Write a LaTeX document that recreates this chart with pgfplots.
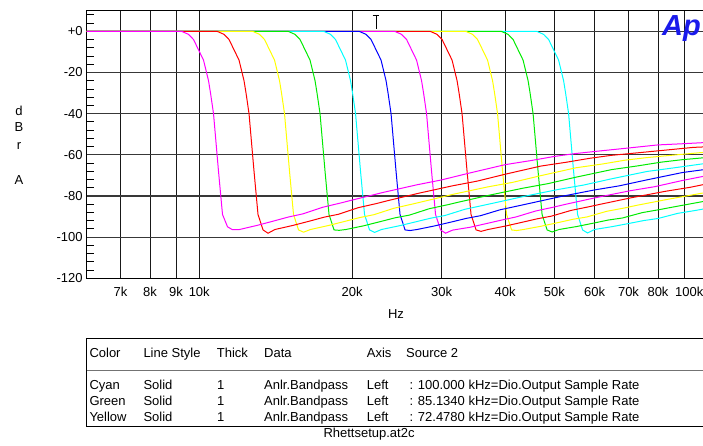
\documentclass[border=0pt]{standalone}
\usepackage{fontspec}
\setmainfont{Liberation Sans}
\usepackage{pgfplots}
\pgfplotsset{compat=1.18}
\definecolor{apmag}{RGB}{255,0,255}
\definecolor{apred}{RGB}{255,0,0}
\definecolor{apyel}{RGB}{255,255,0}
\definecolor{apgrn}{RGB}{0,235,0}
\definecolor{apcyn}{RGB}{0,255,255}
\definecolor{apblu}{RGB}{0,0,255}
\definecolor{aplogo}{RGB}{26,26,235}
\begin{document}
\begin{tikzpicture}[font=\fontsize{13}{15}\selectfont]
\useasboundingbox (0pt,0pt) rectangle (703pt,446pt);
\begin{axis}[
  at={(86.5pt,167.7pt)}, anchor=south west,
  scale only axis, width=620.7pt, height=267.6pt,
  xmode=log, xmin=6000, xmax=100000, ymin=-120, ymax=10,
  xtick={7000,8000,9000,10000,20000,30000,40000,50000,60000,70000,80000,90000},
  xticklabels={7k,8k,9k,10k,20k,30k,40k,50k,60k,70k,80k,{}},
  ytick={-120,-100,-80,-60,-40,-20,0},
  yticklabels={-120,-100,-80,-60,-40,-20,+0},
  minor ytick={-116,-112,-108,-104,-96,-92,-88,-84,-76,-72,-68,-64,-56,-52,-48,-44,-36,-32,-28,-24,-16,-12,-8,-4,4,8},
  xminorticks=false,
  major tick length=0pt, minor tick length=7pt, tick align=inside,
  ytick pos=left, xtick pos=bottom,
  tick style={black, line width=0.8pt},
  xmajorgrids, ymajorgrids,
  major x grid style={black!90, line width=0.9pt},
  major y grid style={black!78, line width=1.1pt},
  axis line style={black, line width=1.1pt},
  tick label style={font=\fontsize{13}{15}\selectfont},
  yticklabel style={anchor=east, inner sep=0pt, xshift=-3.7pt},
  xticklabel style={anchor=north, inner sep=0pt, yshift=-8.4pt},
  every axis plot/.append style={line width=1pt},
]
% k10 cyan
\addplot[apcyn] coordinates {(6000,0) (46143,0) (47632,-1.5) (48725,-4) (49840,-9) (50982,-14) (52150,-24) (52625,-30) (53345,-40) (54567,-68) (55564,-89) (56844,-96.5) (58146,-98) (60000,-96.3) (65000,-94.9) (70000,-93.4) (75000,-91.95) (80000,-90.95) (87500,-88.45) (95000,-87.0) (100000,-86.0)};
% k9 green
\addplot[apgrn] coordinates {(6000,0) (39284,0) (40551,-1.5) (41482,-4) (42431,-9) (43403,-14) (44398,-24) (44802,-30) (45415,-40) (46455,-68) (47304,-89) (48394,-96.5) (49502,-97.5) (51080,-96.3) (55337,-94.85) (59594,-93.25) (63850,-91.7) (68107,-90.7) (74492,-88.1) (80877,-86.55) (85134,-85.5) (97904,-82.75) (100000,-82.4)};
% k8 yellow
\addplot[apyel] coordinates {(6000,0) (33444,0) (34522,-1.5) (35315,-4) (36123,-9) (36950,-14) (37797,-24) (38141,-30) (38663,-40) (39548,-68) (40271,-89) (41199,-96.5) (42143,-96.8) (43487,-96.3) (47111,-94.7) (50735,-93.0) (54359,-91.35) (57982,-90.2) (63418,-87.45) (68854,-85.8) (72478,-84.6) (83350,-81.7) (97120,-78.75) (100000,-78.3)};
% k7 red
\addplot[apred] coordinates {(6000,0) (28472,0) (29391,-1.5) (30066,-4) (30753,-9) (31458,-14) (32179,-24) (32472,-30) (32916,-40) (33670,-68) (34285,-89) (35075,-96.5) (35878,-97.2) (37022,-96.3) (40107,-94.6) (43193,-92.8) (46278,-91.1) (49363,-89.8) (53991,-87.0) (58618,-85.2) (61704,-84.0) (70959,-80.85) (82683,-77.75) (92555,-75.8) (100000,-74.1)};
% k6 magenta
\addplot[apmag] coordinates {(6000,0) (24240,0) (25022,-1.5) (25596,-4) (26182,-9) (26782,-14) (27395,-24) (27645,-30) (28023,-40) (28665,-68) (29189,-89) (29861,-96.5) (30545,-98.1) (31518,-96.6) (34145,-95.2) (36771,-93.4) (39398,-91.7) (42024,-90.2) (45964,-87.3) (49904,-85.4) (52531,-84.1) (60410,-80.8) (70391,-77.5) (78796,-75.5) (89302,-72.5) (100000,-70.1)};
% k5 blue
\addplot[apblu] coordinates {(6000,0) (20635,0) (21301,-1.5) (21790,-4) (22289,-9) (22799,-14) (23322,-24) (23534,-30) (23856,-40) (24402,-68) (24848,-89) (25421,-96.5) (26003,-96.8) (26833,-96.3) (29069,-94.55) (31305,-92.7) (33541,-90.9) (35777,-89.6) (39131,-86.7) (42485,-84.8) (44721,-83.6) (51430,-80.3) (59927,-77.1) (67082,-75.1) (76026,-72.2) (89443,-68.6) (100000,-67.0)};
% k4 cyan
\addplot[apcyn] coordinates {(6000,0) (17568,0) (18135,-1.5) (18551,-4) (18976,-9) (19410,-14) (19855,-24) (20036,-30) (20310,-40) (20775,-68) (21155,-89) (21642,-96.5) (22138,-97.7) (22844,-96.3) (24747,-94.5) (26651,-92.6) (28555,-90.8) (30458,-89.5) (33314,-86.5) (36169,-84.6) (38073,-83.4) (43784,-80.1) (51018,-76.8) (57110,-74.7) (64724,-71.7) (76146,-68.1) (85664,-66.4) (100000,-64.1)};
% k3 green
\addplot[apgrn] coordinates {(6000,0) (14957,0) (15439,-1.5) (15794,-4) (16155,-9) (16525,-14) (16904,-24) (17058,-30) (17291,-40) (17687,-68) (18010,-89) (18425,-96.5) (18847,-96.7) (19448,-96.3) (21069,-94.5) (22689,-92.5) (24310,-90.6) (25931,-89.3) (28362,-86.2) (30793,-84.3) (32413,-83.0) (37275,-79.6) (43434,-76.2) (48620,-74.0) (55102,-70.9) (64826,-67.2) (72930,-65.4) (81033,-63.6) (89136,-62.4) (100000,-61.3)};
% k2 yellow
\addplot[apyel] coordinates {(6000,0) (12733,0) (13144,-1.5) (13445,-4) (13753,-9) (14068,-14) (14390,-24) (14521,-30) (14720,-40) (15057,-68) (15332,-89) (15686,-96.5) (16045,-97.6) (16557,-96.3) (17936,-94.4) (19316,-92.4) (20696,-90.5) (22076,-89.1) (24145,-86.0) (26215,-84.0) (27595,-82.7) (31734,-79.1) (36977,-75.6) (41392,-73.4) (46911,-70.2) (55189,-66.3) (62088,-64.5) (68987,-62.6) (75885,-61.4) (82784,-60.5) (96581,-59.0) (100000,-58.7)};
% k1 red
\addplot[apred] coordinates {(6000,0) (10840,0) (11190,-1.5) (11447,-4) (11709,-9) (11977,-14) (12251,-24) (12363,-30) (12532,-40) (12819,-68) (13053,-89) (13354,-96.5) (13660,-98.1) (14095,-96.3) (15270,-94.35) (16445,-92.3) (17619,-90.3) (18794,-88.9) (20556,-85.7) (22318,-83.7) (23492,-82.3) (27016,-78.7) (31480,-75.1) (35239,-72.8) (39937,-69.5) (46985,-65.5) (52858,-63.6) (58731,-61.7) (64604,-60.3) (70477,-59.4) (82223,-57.8) (93970,-56.4) (100000,-56.1)};
% k0 magenta
\addplot[apmag] coordinates {(6000,0) (9229,0) (9526,-1.5) (9745,-4) (9968,-9) (10196,-14) (10430,-24) (10525,-30) (10669,-40) (10913,-68) (11113,-89) (11369,-95) (11629,-96.4) (12000,-96.3) (13000,-94.3) (14000,-92.2) (15000,-90.2) (16000,-88.7) (17500,-85.5) (19000,-83.4) (20000,-82.0) (23000,-78.3) (26800,-74.6) (30000,-72.2) (34000,-68.9) (40000,-64.8) (45000,-62.8) (50000,-60.8) (55000,-59.4) (60000,-58.4) (70000,-56.7) (80000,-55.2) (90000,-54.6) (100000,-54.0)};
\end{axis}
\begin{scope}[x=1pt,y=1pt]
% last x tick label
\node[anchor=north west, inner sep=0pt] at (675,159.3) {100k};
% y axis label
\node[anchor=base, inner sep=0pt] at (19,330) {d};
\node[anchor=base, inner sep=0pt] at (19,314.3) {B};
\node[anchor=base, inner sep=0pt] at (19,296.7) {r};
\node[anchor=base, inner sep=0pt] at (19,261.7) {A};
% x axis label
\node[anchor=base, inner sep=0pt] at (396,127.7) {Hz};
% cursor marker
\draw[black, line width=0.7pt] (372.7,430.3) -- (379.3,430.3) (376,430.3) -- (376,416.7);
% logo
\node[anchor=base west, inner sep=0pt, text=aplogo] at (662,410) {\fontsize{29}{29}\selectfont\bfseries\itshape Ap};
% table
\draw[black, line width=0.8pt] (710,107.7) -- (86.7,107.7) -- (86.7,20) -- (710,20);
\draw[black!55, line width=0.8pt] (86.7,75.3) -- (710,75.3);
\node[anchor=base west, inner sep=0pt] at (89.3,88) {Color};
\node[anchor=base west, inner sep=0pt] at (143.3,88) {Line Style};
\node[anchor=base west, inner sep=0pt] at (216.7,88) {Thick};
\node[anchor=base west, inner sep=0pt] at (264,88) {Data};
\node[anchor=base west, inner sep=0pt] at (366.7,88) {Axis};
\node[anchor=base west, inner sep=0pt] at (406,88) {Source 2};
\node[anchor=base west, inner sep=0pt] at (89.3,56) {Cyan};
\node[anchor=base west, inner sep=0pt] at (89.3,40) {Green};
\node[anchor=base west, inner sep=0pt] at (89.3,24.3) {Yellow};
\foreach \y in {56,40,24.3}{
  \node[anchor=base west, inner sep=0pt] at (143.3,\y) {Solid};
  \node[anchor=base west, inner sep=0pt] at (217,\y) {1};
  \node[anchor=base west, inner sep=0pt] at (264,\y) {Anlr.Bandpass};
  \node[anchor=base west, inner sep=0pt] at (366.7,\y) {Left};
}
\node[anchor=base west, inner sep=0pt] at (409.3,56) {: 100.000 kHz=Dio.Output Sample Rate};
\node[anchor=base west, inner sep=0pt] at (409.3,40) {: 85.1340 kHz=Dio.Output Sample Rate};
\node[anchor=base west, inner sep=0pt] at (409.3,24.3) {: 72.4780 kHz=Dio.Output Sample Rate};
\node[anchor=base west, inner sep=0pt] at (323.3,8.5) {Rhettsetup.at2c};
\end{scope}
\end{tikzpicture}
\end{document}
